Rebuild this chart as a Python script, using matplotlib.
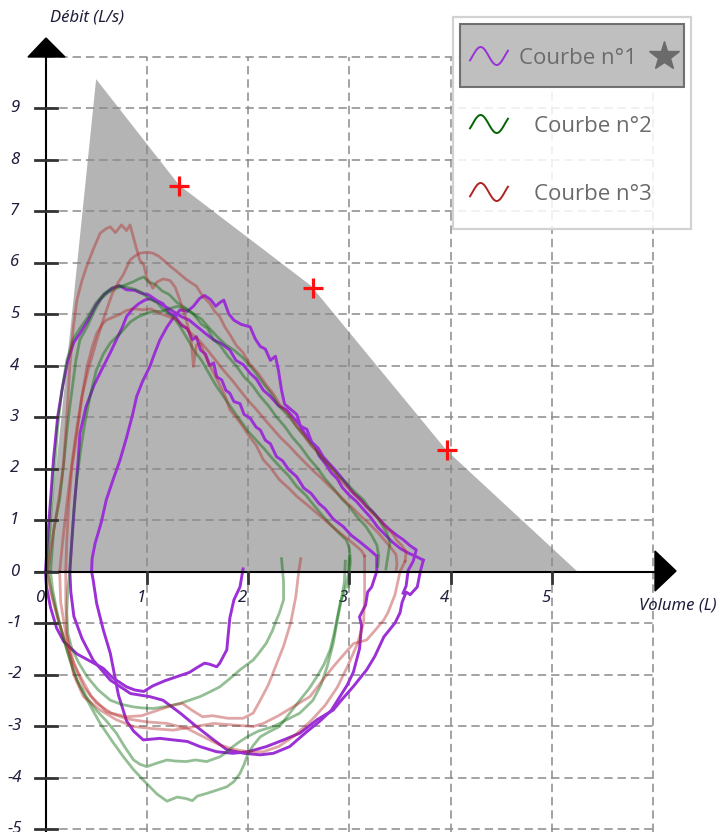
import numpy as np
import matplotlib.pyplot as plt
from matplotlib.patches import Polygon, Rectangle

# ---- zone théorique (gris) et points de référence (+)
zone_vol = [0.00, 0.50, 1.32, 2.62, 3.96, 5.25]
zone_flow = [0.00, 9.56, 7.50, 5.55, 2.35, 0.00]
ref_vol = [1.32, 2.64, 3.96]
ref_flow = [7.49, 5.50, 2.35]

# ---- Courbe n°1 (violet) : (volume L, débit L/s)
p1_exp = [(0.00, 0.00), (0.02, 0.60), (0.05, 1.40), (0.08, 2.20), (0.12, 3.00), (0.17, 3.60), (0.22, 4.10),
          (0.28, 4.45), (0.34, 4.62), (0.42, 4.88), (0.50, 5.18), (0.58, 5.38), (0.66, 5.50), (0.73, 5.55),
          (0.80, 5.47), (0.88, 5.46), (0.95, 5.40), (1.02, 5.37), (1.10, 5.26), (1.16, 5.20), (1.22, 5.02),
          (1.28, 4.96), (1.34, 4.78), (1.40, 4.72), (1.45, 4.50), (1.49, 4.56), (1.53, 4.30), (1.58, 4.22),
          (1.62, 4.00), (1.66, 4.05), (1.69, 3.78), (1.74, 3.72), (1.78, 3.52), (1.82, 3.46), (1.86, 3.30),
          (1.92, 3.26), (1.96, 3.05), (2.02, 2.98), (2.08, 2.80), (2.12, 2.75), (2.17, 2.55), (2.22, 2.48),
          (2.28, 2.23), (2.34, 2.15), (2.40, 1.98), (2.48, 1.84), (2.55, 1.62), (2.62, 1.52), (2.70, 1.32),
          (2.76, 1.22), (2.84, 1.02), (2.94, 0.87), (3.02, 0.70), (3.10, 0.58), (3.20, 0.42), (3.27, 0.30)]
p1_ins = [(3.27, 0.30), (3.27, 0.00), (3.22, -0.30), (3.18, -0.40), (3.16, -0.65), (3.10, -0.88), (3.12, -1.05),
          (3.10, -1.50), (3.04, -1.95), (2.98, -2.20), (2.90, -2.45), (2.82, -2.70), (2.70, -2.92), (2.58, -3.11),
          (2.48, -3.28), (2.41, -3.40), (2.25, -3.53), (2.12, -3.56), (1.96, -3.53), (1.79, -3.46), (1.66, -3.27),
          (1.49, -3.01), (1.33, -2.75), (1.16, -2.50), (1.03, -2.43), (0.84, -2.37), (0.64, -2.11), (0.47, -1.72),
          (0.36, -1.30), (0.28, -0.87), (0.25, -0.40), (0.24, 0.00)]
p2_exp = [(0.455, 0.00), (0.46, 0.25), (0.49, 0.55), (0.55, 0.95), (0.60, 1.39), (0.67, 1.80), (0.735, 2.16),
          (0.80, 2.60), (0.86, 3.05), (0.90, 3.40), (0.96, 3.70), (1.03, 3.98), (1.08, 4.25), (1.13, 4.50),
          (1.20, 4.75), (1.27, 4.95), (1.33, 5.08), (1.40, 5.05), (1.46, 5.15), (1.52, 5.30), (1.57, 5.36),
          (1.63, 5.28), (1.68, 5.15), (1.72, 5.22), (1.76, 5.27), (1.81, 5.00), (1.86, 4.88), (1.93, 4.80),
          (2.02, 4.75), (2.07, 4.52), (2.12, 4.37), (2.17, 4.32), (2.22, 4.10), (2.27, 4.18), (2.30, 3.90),
          (2.33, 3.52), (2.36, 3.25), (2.42, 3.15), (2.48, 3.05), (2.52, 2.80), (2.56, 2.68), (2.61, 2.55),
          (2.66, 2.45), (2.70, 2.25), (2.76, 2.10), (2.82, 1.92), (2.88, 1.80), (2.93, 1.63), (3.00, 1.48),
          (3.07, 1.36), (3.14, 1.20), (3.21, 1.05), (3.28, 0.86), (3.35, 0.72), (3.42, 0.58), (3.50, 0.45),
          (3.58, 0.36), (3.66, 0.29), (3.73, 0.22)]
p2_ins = [(3.73, 0.22), (3.70, 0.00), (3.67, -0.30), (3.60, -0.45), (3.56, -0.40), (3.52, -0.60), (3.50, -0.80),
          (3.45, -1.00), (3.34, -1.27), (3.25, -1.65), (3.17, -1.91), (3.04, -2.23), (2.92, -2.50), (2.84, -2.69),
          (2.68, -2.88), (2.51, -3.14), (2.35, -3.27), (2.18, -3.40), (2.00, -3.50), (1.85, -3.53), (1.69, -3.50),
          (1.525, -3.40), (1.40, -3.30), (1.26, -3.27), (1.13, -3.24), (0.965, -3.27), (0.87, -3.10), (0.80, -2.90),
          (0.72, -2.40), (0.64, -1.59), (0.57, -1.13), (0.505, -0.62), (0.47, -0.16), (0.455, 0.00)]
p3_exp = [(0.24, 0.00), (0.26, 0.60), (0.29, 1.40), (0.32, 2.10), (0.34, 2.68), (0.40, 3.20), (0.48, 3.62),
          (0.57, 3.98), (0.64, 4.25), (0.70, 4.50), (0.76, 4.75), (0.80, 4.95), (0.86, 5.10), (0.92, 5.20),
          (0.98, 5.27), (1.04, 5.30), (1.10, 5.24), (1.18, 5.15), (1.26, 5.05), (1.34, 4.95), (1.42, 4.88),
          (1.50, 4.75), (1.58, 4.62), (1.66, 4.50), (1.74, 4.42), (1.82, 4.30), (1.88, 4.10), (1.95, 4.02),
          (2.02, 3.85), (2.08, 3.74), (2.15, 3.52), (2.22, 3.40), (2.30, 3.22), (2.38, 3.14), (2.45, 2.98),
          (2.52, 2.82), (2.58, 2.76), (2.63, 2.50), (2.69, 2.40), (2.74, 2.23), (2.80, 2.10), (2.87, 1.95),
          (2.94, 1.78), (3.00, 1.62), (3.04, 1.52), (3.11, 1.40), (3.17, 1.26), (3.22, 1.18), (3.27, 1.07),
          (3.34, 0.92), (3.40, 0.81), (3.47, 0.70), (3.53, 0.62), (3.60, 0.50), (3.66, 0.42), (3.63, 0.20),
          (3.58, 0.02), (3.56, -0.28), (3.53, -0.42)]
p3_ins = [(1.95, 0.05), (1.92, -0.30), (1.86, -0.55), (1.82, -0.90), (1.80, -1.30), (1.79, -1.52), (1.72, -1.78),
          (1.69, -1.85), (1.62, -1.80), (1.57, -1.78), (1.50, -1.86), (1.42, -1.96), (1.30, -2.04), (1.18, -2.12),
          (1.06, -2.22), (0.97, -2.33), (0.88, -2.30), (0.80, -2.24), (0.66, -2.06), (0.57, -1.88), (0.44, -1.74),
          (0.31, -1.60), (0.18, -1.36), (0.11, -1.10), (0.05, -0.70), (0.01, -0.30), (0.00, 0.00)]

# ---- Courbe n°2 (vert)
g1_exp = [(0.05, 0.00), (0.08, 0.80), (0.14, 1.40), (0.18, 2.10), (0.21, 2.70), (0.24, 3.20), (0.27, 3.65),
          (0.30, 4.10), (0.34, 4.50), (0.41, 4.75), (0.48, 5.05), (0.55, 5.30), (0.62, 5.42), (0.70, 5.50),
          (0.78, 5.56), (0.86, 5.62), (0.92, 5.68), (0.97, 5.72), (1.02, 5.62), (1.08, 5.58), (1.15, 5.45),
          (1.22, 5.38), (1.30, 5.22), (1.38, 5.12), (1.46, 5.00), (1.54, 4.90), (1.62, 4.72), (1.70, 4.55),
          (1.78, 4.40), (1.86, 4.30), (1.95, 4.15), (2.05, 3.92), (2.15, 3.65), (2.23, 3.45), (2.31, 3.20),
          (2.40, 3.02), (2.48, 2.81), (2.56, 2.62), (2.64, 2.43), (2.72, 2.22), (2.81, 2.04), (2.89, 1.86),
          (2.97, 1.72), (3.05, 1.55), (3.14, 1.39), (3.20, 1.22), (3.27, 1.07), (3.33, 0.88), (3.37, 0.75),
          (3.40, 0.55), (3.38, 0.30), (3.36, 0.05)]
g1_ins = [(3.00, 0.30), (2.99, -0.05), (2.95, -0.40), (2.91, -0.60), (2.88, -0.90), (2.85, -1.20), (2.81, -1.52),
          (2.75, -1.80), (2.68, -2.04), (2.60, -2.28), (2.51, -2.50), (2.40, -2.78), (2.31, -3.01), (2.20, -3.12),
          (2.12, -3.21), (2.05, -3.38), (2.00, -3.53), (1.96, -3.75), (1.92, -3.92), (1.86, -4.08), (1.79, -4.18),
          (1.70, -4.24), (1.59, -4.31), (1.50, -4.36), (1.45, -4.45), (1.39, -4.41), (1.30, -4.38), (1.20, -4.46),
          (1.10, -4.32), (1.03, -4.18), (0.965, -4.05), (0.87, -3.85), (0.77, -3.60), (0.66, -3.30), (0.54, -2.95),
          (0.44, -2.60), (0.34, -2.24), (0.27, -1.90), (0.21, -1.52), (0.15, -1.10), (0.11, -0.75), (0.07, -0.35),
          (0.05, 0.00)]
g2_exp = [(0.02, 0.00), (0.04, 0.70), (0.06, 1.30), (0.09, 2.00), (0.12, 2.80), (0.16, 3.50), (0.21, 4.10),
          (0.27, 4.50), (0.34, 4.72), (0.42, 4.95), (0.50, 5.22), (0.58, 5.40), (0.65, 5.50), (0.72, 5.55),
          (0.80, 5.52), (0.88, 5.48), (0.95, 5.42), (1.02, 5.30), (1.10, 5.22), (1.18, 5.05), (1.26, 4.95),
          (1.33, 4.75), (1.40, 4.52), (1.47, 4.28), (1.54, 4.10), (1.61, 3.86), (1.68, 3.62), (1.75, 3.42),
          (1.82, 3.22), (1.88, 3.05), (1.92, 2.94), (2.00, 2.72), (2.08, 2.55), (2.16, 2.38), (2.25, 2.17),
          (2.33, 2.00), (2.40, 1.86), (2.48, 1.65), (2.57, 1.48), (2.66, 1.26), (2.74, 1.07), (2.82, 0.90),
          (2.90, 0.74), (2.97, 0.61), (3.00, 0.45), (3.01, 0.20), (3.00, 0.00), (2.99, -0.30)]
g2_ins = [(2.96, 0.20), (2.95, -0.20), (2.92, -0.55), (2.88, -0.95), (2.84, -1.40), (2.78, -1.85), (2.72, -2.20),
          (2.64, -2.50), (2.51, -2.75), (2.38, -2.88), (2.25, -3.01), (2.10, -3.10), (2.00, -3.20), (1.92, -3.30),
          (1.85, -3.40), (1.78, -3.52), (1.72, -3.60), (1.59, -3.69), (1.48, -3.66), (1.39, -3.69), (1.28, -3.68),
          (1.20, -3.66), (1.10, -3.72), (1.00, -3.79), (0.93, -3.74), (0.87, -3.66), (0.78, -3.40), (0.70, -3.14),
          (0.60, -2.90), (0.50, -2.69), (0.40, -2.42), (0.31, -2.11), (0.24, -1.70), (0.18, -1.30), (0.12, -0.90),
          (0.06, -0.40), (0.02, 0.00)]
g3_exp = [(0.24, 0.00), (0.26, 0.60), (0.28, 1.20), (0.31, 1.80), (0.35, 2.40), (0.39, 2.90), (0.44, 3.40),
          (0.50, 3.90), (0.57, 4.22), (0.64, 4.44), (0.74, 4.63), (0.84, 4.85), (0.92, 4.95), (0.98, 5.00),
          (1.06, 5.05), (1.14, 5.05), (1.22, 5.10), (1.30, 5.15), (1.38, 5.10), (1.46, 5.00), (1.54, 4.80),
          (1.60, 4.72), (1.66, 4.50), (1.72, 4.40), (1.80, 4.18), (1.88, 4.00), (1.96, 3.78), (2.04, 3.62),
          (2.12, 3.40), (2.20, 3.22), (2.28, 3.00), (2.36, 2.82), (2.44, 2.60), (2.52, 2.42), (2.60, 2.20),
          (2.68, 2.02), (2.76, 1.80), (2.84, 1.62), (2.92, 1.42), (3.00, 1.26), (3.08, 1.05), (3.16, 0.88),
          (3.22, 0.70), (3.27, 0.52), (3.29, 0.30), (3.28, 0.10)]
g3_ins = [(2.33, 0.25), (2.35, -0.20), (2.35, -0.55), (2.31, -0.80), (2.28, -0.94), (2.24, -1.15), (2.18, -1.39),
          (2.10, -1.60), (2.05, -1.72), (1.98, -1.82), (1.92, -1.91), (1.82, -2.08), (1.72, -2.24), (1.62, -2.34),
          (1.525, -2.43), (1.42, -2.50), (1.33, -2.56), (1.20, -2.62), (1.06, -2.66), (0.96, -2.65), (0.87, -2.63),
          (0.75, -2.58), (0.64, -2.50), (0.52, -2.30), (0.41, -2.04), (0.33, -1.78), (0.26, -1.50), (0.22, -1.20),
          (0.21, -0.80), (0.22, -0.35), (0.24, 0.00)]

# ---- Courbe n°3 (rouge)
r1_exp = [(0.02, 0.00), (0.05, 0.40), (0.09, 0.90), (0.13, 1.40), (0.176, 2.04), (0.21, 3.00), (0.24, 3.98),
          (0.275, 4.75), (0.31, 5.27), (0.36, 5.65), (0.406, 5.92), (0.47, 6.25), (0.54, 6.57), (0.60, 6.66),
          (0.64, 6.69), (0.69, 6.58), (0.75, 6.73), (0.80, 6.62), (0.835, 6.73), (0.88, 6.40), (0.93, 6.05),
          (0.97, 5.95), (1.00, 5.70), (1.06, 5.50), (1.10, 5.62), (1.16, 5.68), (1.23, 5.65), (1.28, 5.52),
          (1.33, 5.25), (1.38, 4.95), (1.42, 4.65), (1.44, 4.45), (1.46, 3.98), (1.49, 4.40), (1.53, 4.42),
          (1.57, 4.22), (1.62, 4.00), (1.67, 3.82), (1.72, 3.62), (1.77, 3.42), (1.82, 3.14), (1.88, 3.00),
          (1.95, 2.81), (2.02, 2.60), (2.08, 2.45), (2.15, 2.17), (2.22, 2.02), (2.31, 1.78), (2.40, 1.62),
          (2.48, 1.46), (2.58, 1.30), (2.68, 1.13), (2.78, 0.96), (2.87, 0.81), (2.97, 0.65), (3.07, 0.49),
          (3.12, 0.40), (3.15, 0.30)]
r1_ins = [(3.15, 0.30), (3.15, 0.00), (3.15, -0.50), (3.14, -1.00), (3.08, -1.40), (2.98, -1.85), (2.88, -2.25),
          (2.76, -2.60), (2.62, -2.90), (2.45, -3.20), (2.30, -3.40), (2.15, -3.50), (2.00, -3.50), (1.85, -3.45),
          (1.70, -3.35), (1.55, -3.20), (1.40, -3.05), (1.20, -2.95), (1.00, -2.92), (0.80, -2.86), (0.60, -2.72),
          (0.45, -2.42), (0.32, -1.95), (0.22, -1.50), (0.12, -0.90), (0.05, -0.40), (0.02, 0.00)]
r2_exp = [(0.20, 0.00), (0.21, 0.60), (0.23, 1.30), (0.26, 2.00), (0.31, 2.68), (0.36, 3.40), (0.41, 3.98),
          (0.46, 4.35), (0.505, 4.62), (0.56, 4.80), (0.60, 4.88), (0.67, 4.94), (0.74, 5.00), (0.80, 5.07),
          (0.88, 5.10), (0.96, 5.08), (1.04, 5.10), (1.12, 5.02), (1.20, 4.96), (1.28, 4.90), (1.36, 4.78),
          (1.44, 4.62), (1.52, 4.48), (1.60, 4.30), (1.68, 4.10), (1.76, 3.90), (1.84, 3.72), (1.92, 3.52),
          (2.00, 3.32), (2.08, 3.15), (2.16, 2.96), (2.24, 2.78), (2.32, 2.60), (2.40, 2.45), (2.48, 2.28),
          (2.56, 2.12), (2.64, 1.96), (2.72, 1.82), (2.80, 1.66), (2.88, 1.52), (2.96, 1.36), (3.04, 1.22),
          (3.12, 1.06), (3.20, 0.92), (3.28, 0.76), (3.35, 0.60), (3.41, 0.46), (3.46, 0.33), (3.47, 0.15),
          (3.46, 0.00)]
r2_ins = [(3.55, 0.20), (3.50, 0.00), (3.45, -0.45), (3.38, -0.80), (3.34, -0.94), (3.25, -1.15), (3.17, -1.33),
          (3.04, -1.40), (2.95, -1.60), (2.84, -1.85), (2.72, -2.15), (2.61, -2.43), (2.45, -2.62), (2.30, -2.80),
          (2.15, -2.95), (2.05, -3.01), (1.85, -2.98), (1.66, -2.95), (1.45, -3.02), (1.26, -3.08), (1.05, -3.05),
          (0.87, -3.01), (0.70, -2.88), (0.54, -2.69), (0.45, -2.55), (0.375, -2.43), (0.30, -2.10), (0.275, -1.98),
          (0.24, -1.60), (0.21, -1.20), (0.20, -0.60), (0.20, 0.00)]
r3_exp = [(0.14, 0.00), (0.17, 0.60), (0.21, 1.30), (0.26, 2.10), (0.31, 2.80), (0.36, 3.40), (0.42, 3.90),
          (0.50, 4.45), (0.58, 4.95), (0.66, 5.40), (0.72, 5.62), (0.77, 5.77), (0.835, 6.05), (0.88, 6.12),
          (0.93, 6.18), (1.00, 6.20), (1.06, 6.18), (1.12, 6.12), (1.18, 6.02), (1.23, 5.93), (1.30, 5.82),
          (1.39, 5.67), (1.49, 5.54), (1.55, 5.35), (1.62, 5.21), (1.67, 5.05), (1.72, 4.95), (1.77, 4.75),
          (1.82, 4.60), (1.88, 4.40), (1.95, 4.25), (2.02, 4.02), (2.10, 3.85), (2.18, 3.62), (2.25, 3.45),
          (2.32, 3.22), (2.40, 3.05), (2.48, 2.82), (2.55, 2.65), (2.62, 2.45), (2.70, 2.30), (2.78, 2.10),
          (2.85, 1.95), (2.92, 1.76), (3.00, 1.60), (3.08, 1.44), (3.15, 1.30), (3.22, 1.14), (3.30, 1.00),
          (3.36, 0.86), (3.42, 0.75), (3.47, 0.60), (3.52, 0.50), (3.56, 0.38), (3.55, 0.20)]
r3_ins = [(2.52, 0.25), (2.50, 0.00), (2.47, -0.50), (2.42, -1.00), (2.35, -1.45), (2.27, -1.85), (2.20, -2.20),
          (2.12, -2.50), (2.05, -2.75), (1.95, -2.85), (1.80, -2.85), (1.65, -2.80), (1.55, -2.82), (1.45, -2.70),
          (1.35, -2.56), (1.25, -2.60), (1.10, -2.70), (0.95, -2.80), (0.80, -2.82), (0.65, -2.75), (0.50, -2.55),
          (0.38, -2.25), (0.28, -1.80), (0.20, -1.20), (0.15, -0.60), (0.14, 0.00)]

x_ticks = [0, 1, 2, 3, 4, 5]
y_ticks = [9, 8, 7, 6, 5, 4, 3, 2, 1, 0, -1, -2, -3, -4, -5]
legend_labels = ['Courbe n°1', 'Courbe n°2', 'Courbe n°3']
purple, green, red = '#9b30d6', '#006400', '#b22222'

# pixel -> data mapping of the reference picture
W, H = 728, 832
X0, SX = 45.5, 101.3
Y0, SY = 571.5, 51.5

fig = plt.figure(figsize=(W / 100, H / 100), dpi=100)
ax = fig.add_axes([0, 0, 1, 1])
ax.set_xlim(-X0 / SX, (W - X0) / SX)
ax.set_ylim((Y0 - H) / SY, Y0 / SY)
ax.axis('off')
ybot = (Y0 - H) / SY
lbl = dict(fontsize=12, style='italic', family='Noto Sans', color='#1e1e3c')

ax.fill(zone_vol, zone_flow, color='#b4b4b4', lw=0, zorder=1)

# grille pointillée
dash = (0, (5.5, 3.2))
for xv in range(1, 7):
    ax.plot([xv, xv], [ybot, 10], color='#8a8a8a', lw=1.1, ls=dash, zorder=2)
for yv in range(-5, 11):
    ax.plot([0, 6], [yv, yv], color='#8a8a8a', lw=1.1, ls=dash, zorder=2)

# axes
ax.plot([0, 0], [ybot, 10], color='black', lw=1.5, zorder=6)
ax.plot([-10 / SX, 6.05], [0, 0], color='black', lw=1.5, zorder=6)
for yv in y_ticks:
    ax.plot([-11 / SX, 11 / SX], [yv, yv], color='#333333', lw=2.0, zorder=6)
    ax.text(-31 / SX, yv, str(yv), ha='center', va='center', **lbl)
for xv in x_ticks:
    if xv > 0:
        ax.plot([xv, xv], [0, -11 / SY], color='#333333', lw=2.0, zorder=6)
    ax.text(xv - 6 / SX, -26 / SY, str(xv), ha='center', va='center', **lbl)

# courbes : violet opaque dessous, vert et rouge translucides par-dessus
for c in [p1_exp, p1_ins, p2_exp, p2_ins, p3_exp, p3_ins]:
    v, f = zip(*c)
    ax.plot(v, f, color=purple, lw=2.1, solid_joinstyle='round', zorder=4)
for c in [g1_exp, g1_ins, g2_exp, g2_ins, g3_exp, g3_ins]:
    v, f = zip(*c)
    ax.plot(v, f, color=green, lw=2.0, alpha=0.42, solid_joinstyle='round', zorder=5)
for c in [r1_exp, r1_ins, r2_exp, r2_ins, r3_exp, r3_ins]:
    v, f = zip(*c)
    ax.plot(v, f, color=red, lw=2.0, alpha=0.4, solid_joinstyle='round', zorder=5)

ax.plot(ref_vol, ref_flow, ls='none', marker='+', ms=14, mew=2.3, color='#ff1010', zorder=7)

# couche en pixels pour flèches, titres d'axes et légende
lay = fig.add_axes([0, 0, 1, 1])
lay.set_xlim(0, W)
lay.set_ylim(H, 0)
lay.axis('off')
lay.add_patch(Polygon([(28, 57), (65, 57), (46, 38)], closed=True, color='black', zorder=8))
lay.add_patch(Polygon([(655, 551), (655, 591), (676, 571)], closed=True, color='black', zorder=8))
lay.text(50, 18, 'Débit (L/s)', ha='left', va='center', **lbl)
lay.text(639, 605, 'Volume (L)', ha='left', va='center', **lbl)

lay.add_patch(Rectangle((453, 17), 238, 212, facecolor='white', alpha=0.85, edgecolor='none', zorder=9))
lay.add_patch(Rectangle((453, 17), 238, 212, facecolor='none', edgecolor='#d2d2d2', lw=1.6, zorder=9))
lay.add_patch(Rectangle((460, 24), 224, 63, facecolor='#bcbcbc', alpha=0.95, edgecolor='#6a6a6a',
                        lw=1.5, zorder=10))
s = np.linspace(-0.08, 1.1, 60)
wave_x = 470 + 38 * (s - s[0]) / (s[-1] - s[0])
for lab, col, yc, tx in zip(legend_labels, [purple, green, red], [56, 124, 192], [519, 534, 534]):
    lay.plot(wave_x, yc - 9 * np.sin(2 * np.pi * s), color=col, lw=1.4, zorder=11)
    lay.text(tx, yc + 3, lab, fontsize=16, family='Open Sans', color='#6b6b6b', ha='left', va='center',
             zorder=11)
lay.plot(664, 56, marker='*', ms=22, color='#6b6b6b', zorder=11)

fig.savefig('out.png', dpi=100)
